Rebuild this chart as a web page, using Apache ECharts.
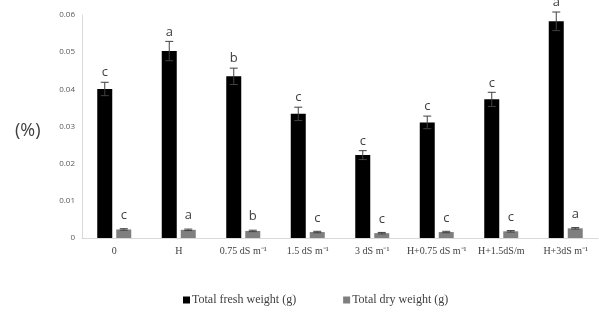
<!DOCTYPE html>
<html>
<head>
<meta charset="utf-8">
<script src="https://cdn.jsdelivr.net/npm/echarts@6/dist/echarts.min.js"></script>
<style>
html, body { margin: 0; padding: 0; background: #fff; }
#chart { width: 599px; height: 315px; }
</style>
</head>
<body>
<div id="chart"></div>
<script>
// categories (treatments)
var categories = ['0', 'H', '0.75 dS m\u207B\u00B9', '1.5 dS m\u207B\u00B9', '3 dS m\u207B\u00B9',
    'H+0.75 dS m\u207B\u00B9', 'H+1.5dS/m', 'H+3dS m\u207B\u00B9'];

// Total fresh weight (g)
var freshValues = [0.0401, 0.0503, 0.0435, 0.0334, 0.0223, 0.0311, 0.0373, 0.0583];
var freshErrors = [0.0018, 0.0026, 0.0022, 0.0018, 0.0012, 0.0017, 0.0019, 0.0025];
var freshLetters = ['c', 'a', 'b', 'c', 'c', 'c', 'c', 'a'];

// Total dry weight (g)
var dryValues = [0.0023, 0.0022, 0.0019, 0.0016, 0.0013, 0.0016, 0.0018, 0.0026];
var dryErrors = [0.0002, 0.0002, 0.0002, 0.0002, 0.0002, 0.0002, 0.0002, 0.0002];
var dryLetters = ['c', 'a', 'b', 'c', 'c', 'c', 'c', 'a'];

var yTicks = { min: 0, max: 0.06, interval: 0.01 };

var BAR_W = 15, BAR_GAP = 4;

// error bar + letter drawn through the category axis
function errorSeries(values, errors, letters, offset, letterGap) {
    var data = values.map(function (v, i) { return [i, v, errors[i], letters[i]]; });
    return {
        type: 'custom',
        silent: true,
        z: 5,
        data: data,
        renderItem: function (params, api) {
            var idx = api.value(0), v = api.value(1), e = api.value(2);
            var x = api.coord([idx, v])[0] + offset;
            var yHi = api.coord([idx, v + e])[1];
            var yLo = api.coord([idx, v - e])[1];
            var cap = 4;
            var st = { stroke: '#404040', lineWidth: 1 };
            return {
                type: 'group',
                children: [
                    { type: 'line', shape: { x1: x, y1: yHi, x2: x, y2: yLo }, style: st },
                    { type: 'line', shape: { x1: x - cap, y1: yHi, x2: x + cap, y2: yHi }, style: st },
                    { type: 'line', shape: { x1: x - cap, y1: yLo, x2: x + cap, y2: yLo }, style: st },
                    { type: 'text', style: {
                        text: letters[idx], x: x, y: yHi - letterGap,
                        align: 'center', verticalAlign: 'bottom',
                        fill: '#404040', font: '13px "Open Sans", sans-serif'
                    } }
                ]
            };
        }
    };
}

var myChart = echarts.init(document.getElementById('chart')),
    option = {
        animation: false,
        color: ['#000000', '#7f7f7f'],
        grid: {
            left: 82,
            right: 1,
            top: 15,
            bottom: 77
        },
        graphic: [
            {
                type: 'text',
                left: 15,
                top: 122,
                style: { text: '(%)', fill: '#404040', font: '18px "Open Sans", sans-serif' }
            }
        ],
        legend: {
            bottom: 4,
            left: 178,
            itemWidth: 7,
            itemHeight: 7,
            itemGap: 47,
            icon: 'rect',
            textStyle: {
                fontFamily: '"Liberation Serif", serif',
                fontSize: 12,
                color: '#404040',
                padding: [0, 0, 0, -3]
            },
            data: ['Total fresh weight (g)', 'Total dry weight (g)']
        },
        xAxis: [
            {
                type: 'category',
                data: categories,
                axisLine: { lineStyle: { color: '#d9d9d9', width: 1 } },
                axisTick: { show: false },
                axisLabel: {
                    interval: 0,
                    margin: 8,
                    fontFamily: '"Liberation Serif", serif',
                    fontSize: 10,
                    color: '#404040'
                }
            }
        ],
        yAxis: [
            {
                type: 'value',
                min: yTicks.min,
                max: yTicks.max,
                interval: yTicks.interval,
                axisLine: { show: true, lineStyle: { color: '#d9d9d9', width: 1 } },
                axisTick: { show: false },
                splitLine: { show: false },
                axisLabel: {
                    margin: 7,
                    fontFamily: '"Open Sans", sans-serif',
                    fontSize: 8,
                    color: '#595959'
                }
            }
        ],
        series: [
            {
                name: 'Total fresh weight (g)',
                type: 'bar',
                barWidth: BAR_W,
                barGap: (BAR_GAP / BAR_W * 100) + '%',
                data: freshValues
            },
            {
                name: 'Total dry weight (g)',
                type: 'bar',
                barWidth: BAR_W,
                data: dryValues
            },
            errorSeries(freshValues, freshErrors, freshLetters, -(BAR_W + BAR_GAP) / 2, 3),
            errorSeries(dryValues, dryErrors, dryLetters, (BAR_W + BAR_GAP) / 2, 7)
        ]
    };

myChart.setOption(option);
</script>
</body>
</html>
